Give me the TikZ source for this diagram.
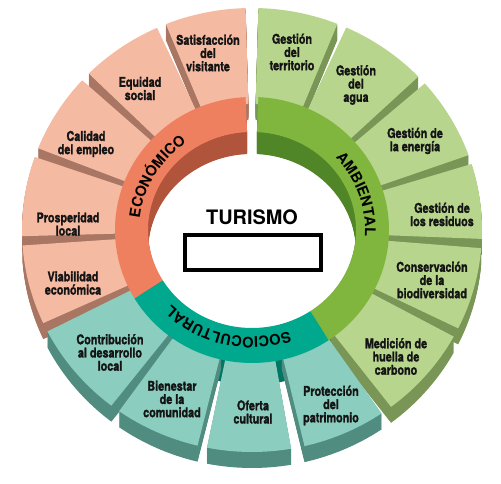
\documentclass[tikz,border=0pt]{standalone}
\usepackage{fontspec}
\setmainfont{TeX Gyre Heros}
\newfontfamily\condfont{TeX Gyre Heros}[FakeStretch=0.8, BoldFeatures={FakeBold=1.5}]
\usetikzlibrary{positioning}
\usetikzlibrary{decorations.text}

\definecolor{ecoTop}{RGB}{245,186,162}
\definecolor{ecoSide}{RGB}{168,118,98}
\definecolor{ecoBand}{RGB}{238,128,96}
\definecolor{ecoWall}{RGB}{176,84,60}
\definecolor{ambTop}{RGB}{184,213,141}
\definecolor{ambSide}{RGB}{122,150,86}
\definecolor{ambBand}{RGB}{128,182,62}
\definecolor{ambWall}{RGB}{80,134,40}
\definecolor{socTop}{RGB}{139,205,191}
\definecolor{socSide}{RGB}{80,140,128}
\definecolor{socBand}{RGB}{0,168,142}
\definecolor{socWall}{RGB}{0,118,100}

\newcommand{\bandfont}{\bfseries\fontsize{12.5}{14}\selectfont}

\tikzset{
  lbl/.style={align=center, inner sep=0pt, text=black!92,
    font=\condfont\bfseries\fontsize{11.5}{11.3}\selectfont},
}

\begin{document}
\begin{tikzpicture}[x=0.03cm, y=0.03cm]
  \useasboundingbox (0,0) rectangle (501,484);
  % radii of the boxes and of the ring
  \def\Rx{230} \def\Ry{222}
  \def\rx{130} \def\ry{126}
  \def\Bx{137} \def\By{133}
  \def\bx{104} \def\by{98}
  \coordinate (c) at (252,254);

  \begin{scope}[shift={(c)}]
    % walls of the ring
    \foreach \a/\b/\wall in {92.7/211/ecoWall, 87.3/-56/ambWall, 211/304/socWall} {
      \foreach \k in {1,...,22}
        \fill[\wall, shift={(0,-\k)}] ({\Bx*cos(\a)},{\By*sin(\a)}) arc[start angle=\a, end angle=\b, x radius=\Bx, y radius=\By]
          -- ({\bx*cos(\b)},{\by*sin(\b)}) arc[start angle=\b, end angle=\a, x radius=\bx, y radius=\by] -- cycle;
    }

    % boxes, back to front
    \foreach \a/\b/\sd/\tp in {91.6/112/ecoSide/ecoTop, 88.4/68.2/ambSide/ambTop,
        114.4/135.2/ecoSide/ecoTop, 65.8/43.7/ambSide/ambTop,
        137.6/158.4/ecoSide/ecoTop, 41.3/19.7/ambSide/ambTop,
        160.8/181.6/ecoSide/ecoTop, 17.3/-2.3/ambSide/ambTop,
        184/204.8/ecoSide/ecoTop, -4.7/-26.3/ambSide/ambTop,
        207.2/232.3/socSide/socTop, -28.7/-52.8/ambSide/ambTop,
        283.2/304.3/socSide/socTop, 234.7/256.3/socSide/socTop,
        258.7/279.8/socSide/socTop} {
      \foreach \k in {1,...,16}
        \fill[\sd, shift={(0,-\k)}] ({\Rx*cos(\a)},{\Ry*sin(\a)}) arc[start angle=\a, end angle=\b, x radius=\Rx, y radius=\Ry]
          -- ({\rx*cos(\b)},{\ry*sin(\b)}) arc[start angle=\b, end angle=\a, x radius=\rx, y radius=\ry] -- cycle;
      \fill[\tp] ({\Rx*cos(\a)},{\Ry*sin(\a)}) arc[start angle=\a, end angle=\b, x radius=\Rx, y radius=\Ry]
        -- ({\rx*cos(\b)},{\ry*sin(\b)}) arc[start angle=\b, end angle=\a, x radius=\rx, y radius=\ry] -- cycle;
    }

    % top of the ring
    \foreach \a/\b/\band in {92.7/211/ecoBand, 87.3/-56/ambBand, 211/304/socBand}
      \fill[\band] ({\Bx*cos(\a)},{\By*sin(\a)}) arc[start angle=\a, end angle=\b, x radius=\Bx, y radius=\By]
        -- ({\bx*cos(\b)},{\by*sin(\b)}) arc[start angle=\b, end angle=\a, x radius=\bx, y radius=\by] -- cycle;

    % ring titles
    \path[decorate, decoration={text along path, text align=center, text={|\bandfont|ECONÓMICO}}]
      ({113*cos(190)},{107*sin(190)}) arc[start angle=190, end angle=110, x radius=113, y radius=107];
    \path[decorate, decoration={text along path, text align=center, text={|\bandfont|AMBIENTAL}}]
      ({113*cos(70)},{107*sin(70)}) arc[start angle=70, end angle=-32, x radius=113, y radius=107];
    \path[decorate, decoration={text along path, text align=center, text={|\bandfont|SOCIOCULTURAL}}]
      ({113*cos(-50)},{107*sin(-50)}) arc[start angle=-50, end angle=-157, x radius=113, y radius=107];
  \end{scope}

  % economico
  \node[lbl] (satisf) at (208,431) {Satisfacción\\del\\visitante};
  \node[lbl] (equidad) at (140,395.5) {Equidad\\social};
  \node[lbl] (calidad) at (86,340) {Calidad\\del empleo};
  \node[lbl] (prosper) at (68,260) {Prosperidad\\local};
  \node[lbl] (viabil) at (73,201) {Viabilidad\\económica};
  % ambiental
  \node[lbl] (territ) at (292,432) {Gestión\\del\\territorio};
  \node[lbl] (agua) at (356,399) {Gestión\\del\\agua};
  \node[lbl] (energia) at (415,343) {Gestión de\\la energía};
  \node[lbl] (residuos) at (442,269.5) {Gestión de\\los residuos};
  \node[lbl] (conserv) at (432,204) {Conservación\\de la\\biodiversidad};
  \node[lbl] (medicion) at (396,127.5) {Medición de\\huella de\\carbono};
  % sociocultural
  \node[lbl] (contrib) at (110,131.5) {Contribución\\al desarrollo\\local};
  \node[lbl] (bienestar) at (172,85) {Bienestar\\de la\\comunidad};
  \node[lbl] (oferta) at (253,72) {Oferta\\cultural};
  \node[lbl] (protec) at (331,78.5) {Protección\\del\\patrimonio};

  % centre
  \node[font=\bfseries\fontsize{17}{20}\selectfont, inner sep=0pt] (turismo) at (252,267) {TURISMO};
  \node[draw, line width=3.4pt, minimum width=4.08cm, minimum height=1.05cm, inner sep=0pt] (caja) at (253,231.5) {};
\end{tikzpicture}
\end{document}
